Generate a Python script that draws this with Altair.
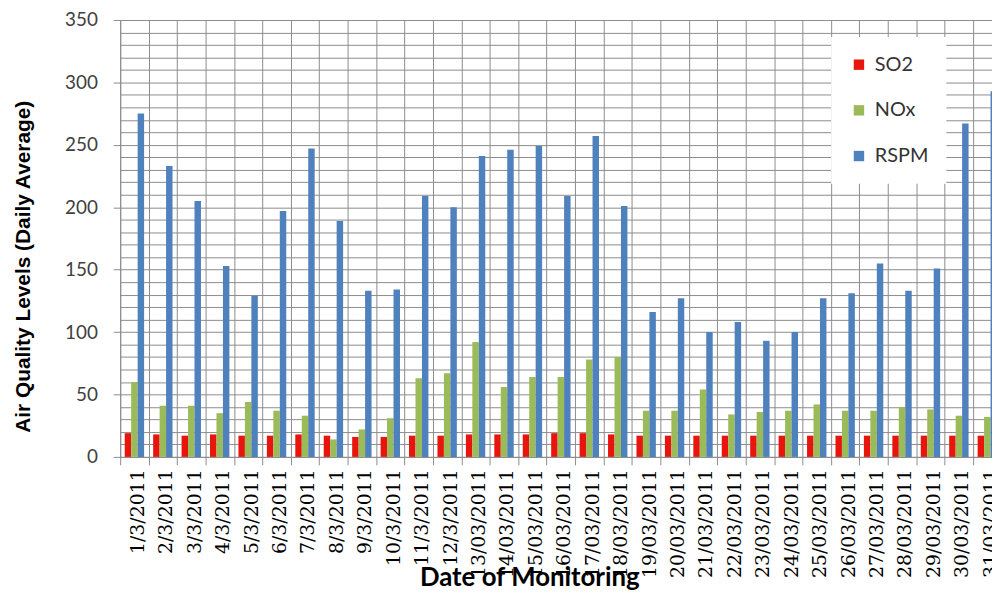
import altair as alt
import pandas as pd

dates = ["1/3/2011", "2/3/2011", "3/3/2011", "4/3/2011", "5/3/2011", "6/3/2011",
         "7/3/2011", "8/3/2011", "9/3/2011", "10/3/2011", "11/3/2011", "12/3/2011",
         "13/03/2011", "14/03/2011", "15/03/2011", "16/03/2011", "17/03/2011",
         "18/03/2011", "19/03/2011", "20/03/2011", "21/03/2011", "22/03/2011",
         "23/03/2011", "24/03/2011", "25/03/2011", "26/03/2011", "27/03/2011",
         "28/03/2011", "29/03/2011", "30/03/2011", "31/03/2011"]
so2 = [19, 18, 17, 18, 17, 17, 18, 17, 16, 16, 17, 17, 18, 18, 18, 19, 19, 18,
       17, 17, 17, 17, 17, 17, 17, 17, 17, 17, 17, 17, 17]
nox = [60, 41, 41, 35, 44, 37, 33, 14, 22, 31, 63, 67, 92, 56, 64, 64, 78, 80,
       37, 37, 54, 34, 36, 37, 42, 37, 37, 40, 38, 33, 32]
rspm = [275, 233, 205, 153, 129, 197, 247, 189, 133, 134, 209, 200, 241, 246,
        249, 209, 257, 201, 116, 127, 100, 108, 93, 100, 127, 131, 155, 133,
        151, 267, 293]
series = ["SO2", "NOx", "RSPM"]
colors = ["#E8140E", "#9BBB59", "#4F81BD"]

rows = []
for name, vals in zip(series, [so2, nox, rspm]):
    for d, v in zip(dates, vals):
        rows.append({"date": d, "series": name, "value": v})
df = pd.DataFrame(rows)

grid_color = "#8c8c8c"

chart = alt.Chart(df).mark_bar().encode(
    x=alt.X("date:N", sort=dates,
            scale=alt.Scale(paddingInner=0, paddingOuter=0, range=[0, 887.6]),
            axis=alt.Axis(title="Date of Monitoring", labelAngle=-90,
                          tickBand="extent", grid=True, gridColor=grid_color,
                          gridOpacity=1, ticks=True, tickSize=8,
                          tickColor=grid_color, domainColor=grid_color,
                          labelFont="DejaVu Serif", labelFontSize=19,
                          labelColor="#000000", labelPadding=4, labelOffset=3,
                          titleFont="Lato", titleFontWeight="bold",
                          titleFontSize=26, titleColor="#000000",
                          titleX=412, titleY=130, titleAlign="center",
                          titleBaseline="alphabetic")),
    xOffset=alt.XOffset("series:N", sort=series,
                        scale=alt.Scale(paddingOuter=0.7, paddingInner=0)),
    y=alt.Y("value:Q",
            scale=alt.Scale(domain=[0, 350], nice=False),
            axis=alt.Axis(title="Air Quality Levels (Daily Average)",
                          values=list(range(0, 351, 10)),
                          labelExpr="datum.value % 50 === 0 ? datum.label : ''",
                          tickOpacity={"condition": {"test": "datum.value % 50 === 0", "value": 1}, "value": 0},
                          grid=True, gridColor=grid_color, gridOpacity=1,
                          tickSize=7, tickColor=grid_color, domainColor=grid_color,
                          labelFont="Lato", labelFontSize=19,
                          labelColor="#404040", labelPadding=16,
                          titleFont="Liberation Sans Narrow, Liberation Sans",
                          titleFontWeight="bold", titleFontSize=21,
                          titleColor="#000000", titleX=-97, titleY=248,
                          titleAlign="center", titleBaseline="middle")),
    color=alt.Color("series:N", sort=series,
                    scale=alt.Scale(domain=series, range=colors),
                    legend=alt.Legend(title=None, orient="none",
                                      legendX=716, legendY=17,
                                      fillColor="#ffffff", padding=18,
                                      rowPadding=26, symbolType="square",
                                      symbolSize=110, symbolStrokeWidth=0,
                                      labelOffset=6,
                                      labelFont="Lato", labelFontSize=20,
                                      labelColor="#333333")),
).properties(
    width=878, height=440,
    autosize=alt.AutoSizeParams(type="none"),
    padding={"left": 113, "top": 10, "right": 0, "bottom": 136}
).configure_view(strokeWidth=0)

chart.save("out.html", embed_options={"renderer": "svg", "actions": False})
